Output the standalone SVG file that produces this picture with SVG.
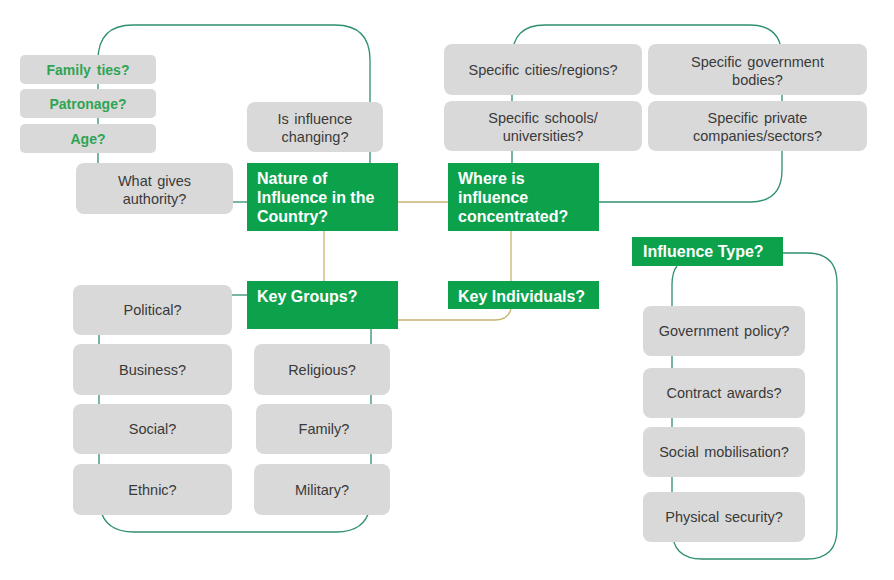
<svg xmlns="http://www.w3.org/2000/svg" width="894" height="580" viewBox="0 0 894 580">
<style>
.g{fill:#d9d9d9}
.k{fill:#0ca24c}
.t{font-family:"Liberation Sans",Arial,sans-serif;font-size:14.5px;fill:#3a3a3a;text-anchor:middle;word-spacing:1.5px}
.gt{font-family:"Liberation Sans",Arial,sans-serif;font-size:14px;font-weight:bold;fill:#2ea454;text-anchor:middle;word-spacing:2px}
.w{font-family:"Liberation Sans",Arial,sans-serif;font-size:16px;font-weight:bold;fill:#ffffff}
.c1{fill:none;stroke:#2f8f72;stroke-width:1.3}
.c2{fill:none;stroke:#c8b46e;stroke-width:1.3}
</style>
<rect width="894" height="580" fill="#ffffff"/>
<g id="connectors">
<path class="c1" d="M98,163 V60 Q98,25 133,25 H335 Q370,25 370,60 V163"/>
<path class="c1" d="M233,202 H247"/>
<path class="c1" d="M512,163 V58 Q512,25 545,25 H750 Q782,25 782,58 V170 Q782,202 750,202 H599"/>
<path class="c1" d="M232,295 H247"/>
<path class="c1" d="M99,335 V497 Q99,532 134,532 H336 Q371,532 371,497 V329"/>
<path class="c1" d="M783,253 H807 Q837,253 837,283 V529 Q837,559 807,559 H702 Q672,559 672,529 V285 Q672,272 677,266"/>
<path class="c2" d="M398,202 H448"/>
<path class="c2" d="M324,231 V281"/>
<path class="c2" d="M511,231 V281"/>
<path class="c2" d="M398,320 H495 Q508,320 511,309"/>
</g>
<g id="family-ties"><rect class="g" x="20" y="55" width="136" height="29" rx="5"/><text class="gt" x="88" y="74.5">Family ties?</text></g>
<g id="patronage"><rect class="g" x="20" y="89" width="136" height="29" rx="5"/><text class="gt" x="88" y="108.5">Patronage?</text></g>
<g id="age"><rect class="g" x="20" y="124" width="136" height="29" rx="5"/><text class="gt" x="88" y="143.5">Age?</text></g>
<g id="what-gives"><rect class="g" x="76" y="163" width="157" height="51" rx="8"/><text class="t" x="154.5" y="185.5">What gives</text><text class="t" x="154.5" y="203.5">authority?</text></g>
<g id="is-influence"><rect class="g" x="247" y="102" width="136" height="50" rx="8"/><text class="t" x="315" y="123.5">Is influence</text><text class="t" x="315" y="141.5">changing?</text></g>
<g id="nature"><rect class="k" x="247" y="163" width="151" height="68"/><text class="w" x="257" y="184">Nature of</text><text class="w" x="257" y="203">Influence in the</text><text class="w" x="257" y="222">Country?</text></g>
<g id="where"><rect class="k" x="448" y="163" width="151" height="68"/><text class="w" x="458" y="184">Where is</text><text class="w" x="458" y="203">influence</text><text class="w" x="458" y="222">concentrated?</text></g>
<g id="cities"><rect class="g" x="444" y="44" width="198" height="51" rx="8"/><text class="t" x="543" y="75">Specific cities/regions?</text></g>
<g id="schools"><rect class="g" x="444" y="101" width="198" height="50" rx="8"/><text class="t" x="543" y="122.5">Specific schools/</text><text class="t" x="543" y="140.5">universities?</text></g>
<g id="gov-bodies"><rect class="g" x="648" y="44" width="219" height="51" rx="8"/><text class="t" x="757.5" y="66.5">Specific government</text><text class="t" x="757.5" y="84.5">bodies?</text></g>
<g id="private"><rect class="g" x="648" y="101" width="219" height="50" rx="8"/><text class="t" x="757.5" y="122.5">Specific private</text><text class="t" x="757.5" y="140.5">companies/sectors?</text></g>
<g id="key-groups"><rect class="k" x="247" y="281" width="151" height="48"/><text class="w" x="257" y="302">Key Groups?</text></g>
<g id="key-individuals"><rect class="k" x="448" y="281" width="151" height="28"/><text class="w" x="458" y="302">Key Individuals?</text></g>
<g id="political"><rect class="g" x="73" y="285" width="159" height="50" rx="8"/><text class="t" x="152.5" y="315">Political?</text></g>
<g id="business"><rect class="g" x="73" y="344" width="159" height="51" rx="8"/><text class="t" x="152.5" y="374.5">Business?</text></g>
<g id="social"><rect class="g" x="73" y="404" width="159" height="50" rx="8"/><text class="t" x="152.5" y="434">Social?</text></g>
<g id="ethnic"><rect class="g" x="73" y="464" width="159" height="51" rx="8"/><text class="t" x="152.5" y="494.5">Ethnic?</text></g>
<g id="religious"><rect class="g" x="254" y="344" width="136" height="51" rx="8"/><text class="t" x="322" y="374.5">Religious?</text></g>
<g id="family"><rect class="g" x="256" y="404" width="136" height="50" rx="8"/><text class="t" x="324" y="434">Family?</text></g>
<g id="military"><rect class="g" x="254" y="464" width="136" height="51" rx="8"/><text class="t" x="322" y="494.5">Military?</text></g>
<g id="influence-type"><rect class="k" x="632" y="237" width="151" height="29"/><text class="w" x="643" y="257">Influence Type?</text></g>
<g id="gov-policy"><rect class="g" x="643" y="306" width="162" height="50" rx="8"/><text class="t" x="724" y="336">Government policy?</text></g>
<g id="contract"><rect class="g" x="643" y="368" width="162" height="50" rx="8"/><text class="t" x="724" y="398">Contract awards?</text></g>
<g id="social-mob"><rect class="g" x="643" y="427" width="162" height="50" rx="8"/><text class="t" x="724" y="457">Social mobilisation?</text></g>
<g id="physical"><rect class="g" x="643" y="492" width="162" height="50" rx="8"/><text class="t" x="724" y="522">Physical security?</text></g>
</svg>
